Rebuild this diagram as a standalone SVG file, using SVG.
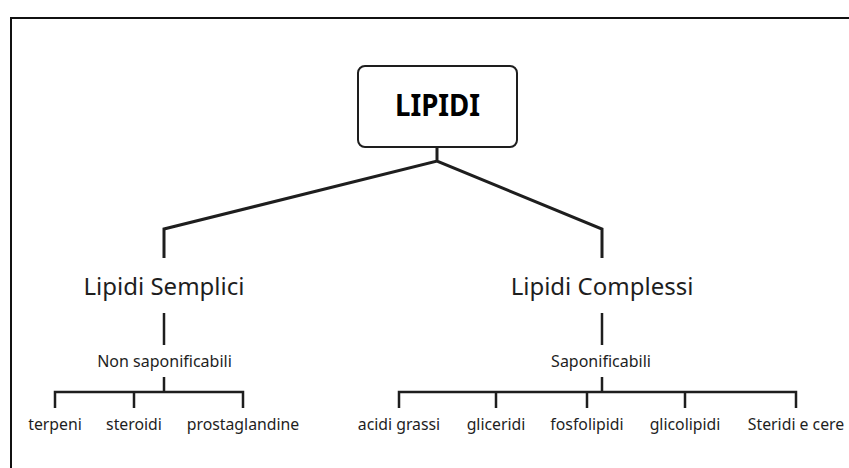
<svg xmlns="http://www.w3.org/2000/svg" width="849" height="468" viewBox="0 0 849 468">
<style>
.t{font-family:"Noto Sans","Open Sans","Liberation Sans",sans-serif;fill:#1e1e1e;text-anchor:middle}
.big{font-size:24px}
.mid{font-size:16px}
.leaf{font-size:15.8px}
.c{fill:none;stroke:#1e1e1e;stroke-linecap:butt;stroke-linejoin:miter}
.c1{stroke-width:3}
.c2{stroke-width:2.5}
</style>
<rect x="0" y="0" width="849" height="468" fill="#fff"/>
<rect x="11" y="18" width="860" height="470" fill="none" stroke="#111" stroke-width="2"/>
<g id="connectors">
<path class="c c1" d="M437 147V161M164 258V229L437 161L602 229V258"/>
<path class="c c2" d="M164 313V345M602 313V345"/>
<path class="c c2" d="M164 377V392M55 408V392H243V408M134 392V408"/>
<path class="c c2" d="M602 377V392M399 408V392H796V408M496 392V408M587 392V408M685 392V408"/>
</g>
<g id="lipidi">
<rect x="358" y="66" width="159" height="81" rx="7" fill="#fff" stroke="#1e1e1e" stroke-width="2"/>
<text class="t" x="437.5" y="116" style="font-size:31px;font-weight:bold;fill:#000" textLength="85" lengthAdjust="spacingAndGlyphs">LIPIDI</text>
</g>
<g id="semplici"><text class="t big" x="164" y="295">Lipidi Semplici</text></g>
<g id="complessi"><text class="t big" x="602" y="295">Lipidi Complessi</text></g>
<g id="non-sapon"><text class="t mid" x="164.5" y="367">Non saponificabili</text></g>
<g id="sapon"><text class="t mid" x="601" y="367">Saponificabili</text></g>
<g id="terpeni"><text class="t leaf" x="55" y="430">terpeni</text></g>
<g id="steroidi"><text class="t leaf" x="134" y="430">steroidi</text></g>
<g id="prostaglandine"><text class="t leaf" x="243" y="430">prostaglandine</text></g>
<g id="acidi"><text class="t leaf" x="399" y="430">acidi grassi</text></g>
<g id="gliceridi"><text class="t leaf" x="496" y="430">gliceridi</text></g>
<g id="fosfolipidi"><text class="t leaf" x="587" y="430">fosfolipidi</text></g>
<g id="glicolipidi"><text class="t leaf" x="685" y="430">glicolipidi</text></g>
<g id="steridi"><text class="t leaf" x="796" y="430">Steridi e cere</text></g>
</svg>
